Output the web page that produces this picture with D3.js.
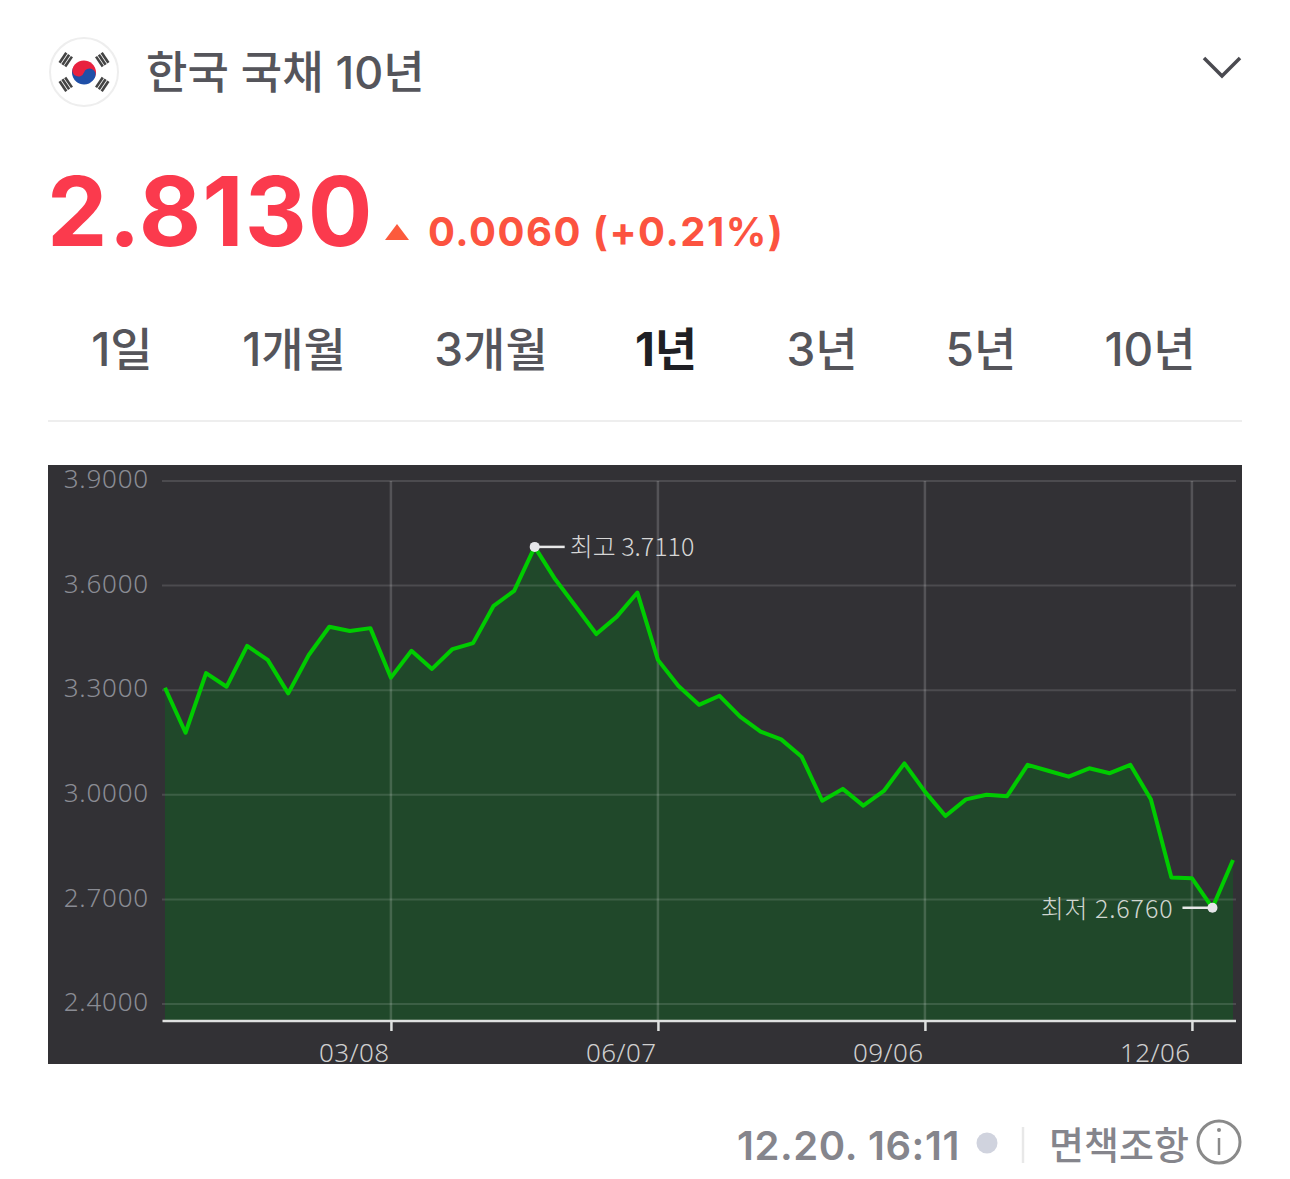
<!DOCTYPE html>
<html>
<head>
<meta charset="utf-8">
<script src="https://cdn.jsdelivr.net/npm/d3@7"></script>
<style>
  html, body { margin: 0; background: #fff; }
  svg { display: block; }
  text { font-family: Inter, "Noto Sans CJK KR", sans-serif; }
  .cjk { font-family: "Noto Sans CJK KR", sans-serif; }
  .thin { font-family: "Noto Sans", "Noto Sans CJK KR", sans-serif; }
</style>
</head>
<body>
<div class="graph"></div>
<script>
var dates = ["12/21","12/28","01/04","01/11","01/18","01/25","02/01","02/08","02/15","02/22","03/01",
  "03/08","03/15","03/22","03/29","04/05","04/12","04/19","04/26","05/03","05/10","05/17","05/24","05/31",
  "06/07","06/14","06/21","06/28","07/05","07/12","07/19","07/26","08/02","08/09","08/16","08/23","08/30",
  "09/06","09/13","09/20","09/27","10/04","10/11","10/18","10/25","11/01","11/08","11/15","11/22","11/29",
  "12/06","12/13","12/20"];
var yields = [3.307,3.178,3.349,3.310,3.427,3.387,3.291,3.401,3.482,3.470,3.478,
  3.336,3.413,3.361,3.418,3.435,3.542,3.585,3.711,3.618,3.540,3.461,3.511,3.580,
  3.387,3.312,3.258,3.284,3.224,3.181,3.159,3.109,2.983,3.017,2.969,3.011,3.090,
  3.009,2.939,2.987,3.000,2.996,3.086,3.069,3.052,3.076,3.062,3.086,2.987,2.763,
  2.761,2.676,2.813];
var yTicks = [3.9,3.6,3.3,3.0,2.7,2.4];
var xTicks = ["03/08","06/07","09/06","12/06"];
var tabs = ["1일","1개월","3개월","1년","3년","5년","10년"];
var tabCenters = [122,294,491,666,822,981,1150];

var svg = d3.select(".graph").append("svg")
  .attr("width", 1290)
  .attr("height", 1179);

// header
var flag = svg.append("g").attr("transform", "translate(84,72)");
flag.append("circle").attr("r", 34).attr("fill", "#fff").attr("stroke", "#eeeeee").attr("stroke-width", 2);
flag.append("g").attr("transform", "translate(0,0.5) rotate(20)").call(function(g) {
  g.append("path").attr("d", "M-12,0A12,12 0 0 1 12,0Z").attr("fill", "#e8213f");
  g.append("path").attr("d", "M-12,0A12,12 0 0 0 12,0Z").attr("fill", "#1f4fa8");
  g.append("circle").attr("cx", -6).attr("r", 6).attr("fill", "#e8213f");
  g.append("circle").attr("cx", 6).attr("r", 6).attr("fill", "#1f4fa8");
});
[-146, -34, 34, 146].forEach(function(a) {
  var g = flag.append("g").attr("transform", "rotate(" + a + ") translate(22,0)");
  [-3.4, 0, 3.4].forEach(function(o) {
    g.append("rect").attr("x", o - 1.3).attr("y", -6).attr("width", 2.6).attr("height", 12).attr("fill", "#444");
  });
});

svg.append("text").attr("x", 146).attr("y", 89)
  .attr("font-size", 45).attr("font-weight", 500).attr("fill", "#55555b")
  .text("한국 국채 10년");
svg.append("path").attr("d", "M1204,58L1222,76L1240,58").attr("fill", "none")
  .attr("stroke", "#4a4a50").attr("stroke-width", 3.5);

svg.append("text").attr("x", 47).attr("y", 246).attr("font-size", 96).attr("font-weight", 700)
  .attr("fill", "#fb3a4d").attr("letter-spacing", 1).text("2.8130");
svg.append("path").attr("d", "M385,240L397,224L409,240Z").attr("fill", "#fc5a3c");
svg.append("text").attr("x", 428).attr("y", 246).attr("font-size", 40).attr("font-weight", 700)
  .attr("fill", "#fc5340").attr("letter-spacing", 1.5).text("0.0060 (+0.21%)");

// period tabs
svg.selectAll(".tab").data(tabs).join("text")
  .attr("class", "tab")
  .attr("x", function(d, i) { return tabCenters[i]; })
  .attr("y", 366)
  .attr("text-anchor", "middle")
  .attr("font-size", 46)
  .attr("font-weight", function(d) { return d === "1년" ? 700 : 500; })
  .attr("fill", function(d) { return d === "1년" ? "#1f1f24" : "#55555b"; })
  .text(function(d) { return d; });
svg.append("line").attr("x1", 48).attr("x2", 1242).attr("y1", 421).attr("y2", 421)
  .attr("stroke", "#eeeeee").attr("stroke-width", 2);

// chart
svg.append("rect").attr("x", 48).attr("y", 465).attr("width", 1194).attr("height", 599).attr("fill", "#323135");

var x = d3.scalePoint().domain(dates).range([165, 1233]);
var y = d3.scaleLinear().domain([2.4, 3.9]).range([1004, 481]);
var baseline = 1021;
var points = dates.map(function(d, i) { return {date: d, value: yields[i]}; });

var area = d3.area()
  .x(function(d) { return x(d.date); })
  .y0(baseline)
  .y1(function(d) { return y(d.value); });
var line = d3.line()
  .x(function(d) { return x(d.date); })
  .y(function(d) { return y(d.value); });

svg.append("path").datum(points).attr("d", area).attr("fill", "#20482a");

var yAxis = d3.axisLeft(y)
  .tickValues(yTicks)
  .tickSize(0)
  .tickPadding(13)
  .tickFormat(d3.format(".4f"));
var yAxisGroup = svg.append("g").attr("transform", "translate(162,0)").call(yAxis);
yAxisGroup.select(".domain").remove();
yAxisGroup.selectAll("text").attr("class", "thin").attr("font-size", 26).attr("font-weight", 300)
  .attr("fill", "#8a8c94").attr("letter-spacing", 0.8).attr("dy", "0.26em");

svg.selectAll(".hgrid").data(yTicks).join("line")
  .attr("class", "hgrid")
  .attr("x1", 162).attr("x2", 1236)
  .attr("y1", function(d) { return y(d); })
  .attr("y2", function(d) { return y(d); })
  .attr("stroke", "rgba(255,255,255,0.13)").attr("stroke-width", 2);
svg.selectAll(".vgrid").data(xTicks).join("line")
  .attr("class", "vgrid")
  .attr("x1", function(d) { return x(d); })
  .attr("x2", function(d) { return x(d); })
  .attr("y1", 481).attr("y2", baseline)
  .attr("stroke", "rgba(255,255,255,0.17)").attr("stroke-width", 2.5);

var xAxis = d3.axisBottom(x).tickValues(xTicks).tickSize(10).tickPadding(6);
var xAxisGroup = svg.append("g").attr("transform", "translate(0," + baseline + ")").call(xAxis);
xAxisGroup.select(".domain").attr("d", "M162.5,0H1236").attr("stroke", "#dfe1e0").attr("stroke-width", 2.5);
xAxisGroup.selectAll("line").attr("stroke", "#dfe1e0").attr("stroke-width", 2.5);
xAxisGroup.selectAll("text").attr("class", "thin").attr("font-size", 26).attr("font-weight", 300)
  .attr("fill", "#cfcfcf").attr("letter-spacing", 0.4).attr("text-anchor", "end").attr("dx", -2).attr("dy", "0.98em");

svg.append("path").datum(points).attr("d", line).attr("fill", "none")
  .attr("stroke", "#00cc00").attr("stroke-width", 4).attr("stroke-linejoin", "round");

// high and low marks
var high = points[d3.maxIndex(yields)];
var low = points[d3.minIndex(yields)];
svg.append("line").attr("x1", x(high.date)).attr("x2", x(high.date) + 30)
  .attr("y1", y(high.value)).attr("y2", y(high.value))
  .attr("stroke", "#e8e8e8").attr("stroke-width", 2.5);
svg.append("line").attr("x1", x(low.date) - 30).attr("x2", x(low.date))
  .attr("y1", y(low.value)).attr("y2", y(low.value))
  .attr("stroke", "#e8e8e8").attr("stroke-width", 2.5);
[high, low].forEach(function(d) {
  svg.append("circle").attr("cx", x(d.date)).attr("cy", y(d.value)).attr("r", 5).attr("fill", "#e6e6ea");
});
svg.append("text").attr("class", "cjk").attr("x", x(high.date) + 35).attr("y", y(high.value) + 9)
  .attr("font-size", 25).attr("font-weight", 300).attr("fill", "#d6d6d6")
  .text("최고 " + d3.format(".4f")(high.value));
svg.append("text").attr("class", "cjk").attr("x", x(low.date) - 39).attr("y", y(low.value) + 10)
  .attr("text-anchor", "end").attr("font-size", 25).attr("font-weight", 300).attr("fill", "#d0d6d0")
  .attr("letter-spacing", 0.9)
  .text("최저 " + d3.format(".4f")(low.value));

// footer
svg.append("text").attr("x", 960).attr("y", 1160).attr("text-anchor", "end")
  .attr("font-size", 40).attr("font-weight", 600).attr("fill", "#85858c").attr("letter-spacing", 0.6).text("12.20. 16:11");
svg.append("circle").attr("cx", 987).attr("cy", 1143).attr("r", 10.5).attr("fill", "#d0d3de");
svg.append("line").attr("x1", 1023).attr("x2", 1023).attr("y1", 1127).attr("y2", 1163)
  .attr("stroke", "#e8e8e8").attr("stroke-width", 2.5);
svg.append("text").attr("x", 1049).attr("y", 1159)
  .attr("font-size", 38).attr("font-weight", 500).attr("fill", "#85858c").text("면책조항");
svg.append("circle").attr("cx", 1219).attr("cy", 1142).attr("r", 21).attr("fill", "none")
  .attr("stroke", "#8a8a8a").attr("stroke-width", 3);
svg.append("line").attr("x1", 1219).attr("x2", 1219).attr("y1", 1138).attr("y2", 1155)
  .attr("stroke", "#8a8a8a").attr("stroke-width", 2.5);
svg.append("circle").attr("cx", 1219).attr("cy", 1130).attr("r", 2).attr("fill", "#8a8a8a");
</script>
</body>
</html>
